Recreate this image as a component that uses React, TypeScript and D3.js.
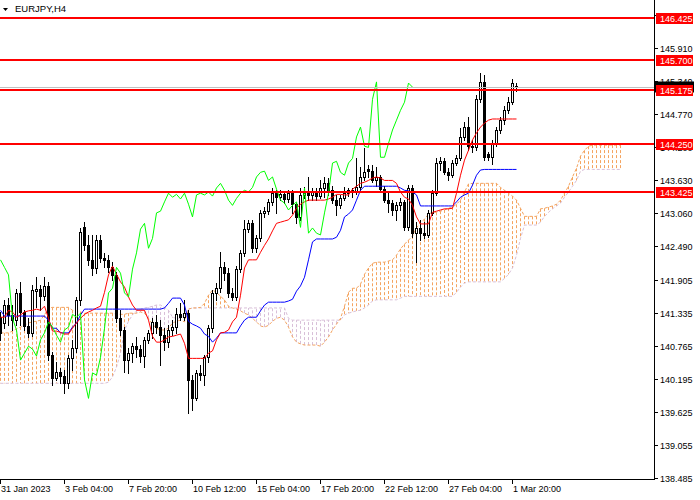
import React from "react";
import * as d3 from "d3";

// EURJPY H4 candles
const opens = [
  141.26, 141.16, 141.47, 141.30, 141.21, 141.68, 141.35, 141.11, 140.99, 141.71,
  141.74, 141.62, 141.80, 140.61, 140.21, 140.31, 140.24, 140.12, 140.55, 140.73,
  141.56, 142.81, 142.50, 142.25, 142.11, 142.59, 142.28, 142.25, 142.12, 141.99,
  141.24, 141.04, 140.52, 140.64, 140.76, 140.71, 140.59, 140.87, 140.99, 141.18,
  141.09, 140.95, 140.83, 141.04, 141.09, 141.31, 141.26, 141.33, 140.18, 139.86,
  140.30, 140.26, 140.57, 141.07, 141.68, 141.76, 142.12, 142.02, 141.68, 141.61,
  142.09, 142.37, 142.78, 142.88, 142.45, 142.62, 143.06, 143.09, 143.25, 143.40,
  143.33, 143.38, 143.30, 143.40, 143.21, 142.99, 143.37, 143.40, 143.37, 143.42,
  143.35, 143.49, 143.57, 143.45, 143.28, 143.19, 143.31, 143.40, 143.45, 143.42,
  143.50, 143.68, 143.81, 143.78, 143.62, 143.68, 143.47, 143.28, 143.23, 143.11,
  143.19, 143.25, 142.81, 143.49, 142.71, 142.80, 142.71, 142.68, 143.06, 143.40,
  143.92, 143.95, 143.76, 143.71, 143.92, 144.00, 144.37, 144.54, 144.21, 144.19,
  145.02, 145.32, 144.07, 144.02, 144.26, 144.49, 144.66, 144.83, 144.97, 145.25,
];
const highs = [
  141.35, 141.56, 141.59, 141.47, 141.74, 141.87, 141.38, 141.24, 141.81, 141.95,
  141.81, 141.95, 141.87, 140.66, 140.49, 140.38, 140.35, 140.61, 140.87, 141.61,
  142.80, 142.90, 142.68, 142.68, 142.68, 142.68, 142.37, 142.33, 142.21, 142.04,
  141.38, 141.09, 140.73, 140.81, 140.92, 140.78, 140.92, 141.04, 141.24, 141.30,
  141.21, 141.07, 141.12, 141.21, 141.42, 141.50, 141.56, 141.38, 140.26, 140.35,
  140.43, 140.61, 141.12, 141.73, 141.85, 142.38, 142.21, 142.11, 141.76, 142.14,
  142.42, 142.94, 142.94, 142.94, 142.68, 143.11, 143.16, 143.30, 143.49, 143.45,
  143.45, 143.42, 143.45, 143.45, 143.23, 143.49, 143.50, 143.68, 143.49, 143.49,
  143.62, 143.68, 143.66, 143.52, 143.37, 143.37, 143.50, 143.49, 143.49, 144.00,
  143.85, 144.18, 143.88, 143.88, 143.85, 143.71, 143.52, 143.42, 143.28, 143.25,
  143.31, 143.28, 143.54, 143.54, 142.90, 142.94, 142.90, 143.11, 143.45, 144.00,
  144.02, 144.00, 143.83, 143.97, 144.06, 144.52, 144.63, 144.71, 144.32, 145.09,
  145.47, 145.44, 144.11, 144.32, 144.54, 144.71, 144.90, 145.06, 145.37, 145.30,
];
const lows = [
  140.87, 141.07, 141.12, 141.04, 141.12, 141.12, 141.04, 140.92, 140.93, 141.43,
  141.38, 141.56, 140.52, 140.09, 140.18, 140.12, 139.95, 140.04, 140.35, 140.66,
  141.47, 142.42, 142.16, 141.99, 142.02, 142.21, 142.12, 142.04, 141.90, 141.18,
  140.95, 140.31, 140.30, 140.49, 140.57, 140.49, 140.40, 140.81, 140.90, 140.99,
  140.43, 140.69, 140.74, 140.95, 140.99, 141.21, 141.21, 139.61, 139.66, 139.83,
  140.18, 140.09, 140.49, 141.00, 141.56, 141.69, 141.90, 141.61, 141.56, 141.56,
  142.04, 142.31, 142.73, 142.38, 142.38, 142.57, 142.99, 143.04, 143.19, 143.06,
  143.28, 143.23, 143.25, 143.06, 142.88, 142.94, 143.31, 143.28, 143.28, 143.28,
  143.31, 143.33, 143.37, 143.23, 143.02, 143.14, 143.28, 143.35, 143.33, 143.38,
  143.45, 143.62, 143.68, 143.59, 143.52, 143.42, 143.25, 143.07, 143.02, 142.94,
  143.11, 142.76, 142.76, 142.64, 142.21, 142.59, 142.62, 142.64, 143.02, 143.37,
  143.80, 143.73, 143.62, 143.68, 143.88, 143.97, 144.32, 144.14, 144.11, 144.14,
  144.97, 143.97, 143.97, 143.90, 144.21, 144.44, 144.59, 144.78, 144.94, 145.16,
];
const closes = [
  140.99, 141.47, 141.30, 141.21, 141.68, 141.35, 141.11, 140.99, 141.73, 141.74,
  141.62, 141.80, 140.61, 140.21, 140.31, 140.24, 140.12, 140.55, 140.73, 141.56,
  142.73, 142.50, 142.25, 142.11, 142.59, 142.28, 142.25, 142.12, 141.99, 141.24,
  141.04, 140.52, 140.64, 140.76, 140.71, 140.59, 140.87, 140.99, 141.18, 141.09,
  140.95, 140.83, 141.04, 141.09, 141.31, 141.26, 141.33, 140.18, 139.86, 140.30,
  140.26, 140.57, 141.07, 141.68, 141.76, 142.12, 142.02, 141.68, 141.61, 142.09,
  142.37, 142.78, 142.88, 142.45, 142.62, 143.06, 143.09, 143.25, 143.40, 143.33,
  143.38, 143.30, 143.40, 143.21, 142.99, 143.37, 143.40, 143.37, 143.42, 143.35,
  143.49, 143.57, 143.45, 143.28, 143.19, 143.31, 143.40, 143.45, 143.42, 143.50,
  143.68, 143.76, 143.78, 143.62, 143.68, 143.47, 143.28, 143.23, 143.11, 143.19,
  143.25, 142.81, 143.49, 142.71, 142.80, 142.71, 142.68, 143.06, 143.40, 143.92,
  143.95, 143.76, 143.71, 143.92, 144.00, 144.37, 144.54, 144.21, 144.19, 145.02,
  145.32, 144.02, 144.02, 144.26, 144.49, 144.66, 144.83, 144.97, 145.30, 145.23,
];

// Ichimoku lines
const tenkan = [
  141.26, 141.26, 141.38, 141.35, 141.26, 141.30, 141.35, 141.37, 141.38, 141.40,
  141.38, 141.45, 141.24, 141.02, 141.02, 141.00, 140.97, 140.97, 141.07, 141.16,
  141.24, 141.31, 141.35, 141.38, 141.42, 141.45, 141.69, 141.99, 142.14, 142.00,
  141.87, 141.78, 141.61, 141.47, 141.38, 141.38, 141.38, 141.21, 140.93, 140.83,
  140.83, 140.87, 140.92, 140.93, 140.95, 140.97, 140.81, 140.55, 140.55, 140.55,
  140.55, 140.55, 140.64, 140.68, 140.87, 140.99, 141.00, 141.04, 141.18, 141.26,
  141.64, 142.11, 142.25, 142.25, 142.25, 142.38, 142.50, 142.61, 142.75, 142.88,
  142.90, 142.92, 142.94, 143.02, 143.14, 143.21, 143.25, 143.28, 143.28, 143.28,
  143.28, 143.28, 143.30, 143.33, 143.38, 143.38, 143.37, 143.37, 143.47, 143.52,
  143.57, 143.59, 143.62, 143.66, 143.68, 143.66, 143.62, 143.62, 143.62, 143.57,
  143.42, 143.33, 143.30, 143.19, 142.99, 142.87, 142.87, 142.87, 143.07, 143.09,
  143.11, 143.13, 143.13, 143.14, 143.40, 143.71, 143.97, 144.14, 144.32, 144.44,
  144.54, 144.61, 144.66, 144.68, 144.68, 144.68, 144.68, 144.68, 144.68, 144.68,
];
const kijun = [
  141.38, 141.28, 141.28, 141.28, 141.28, 141.28, 141.28, 141.28, 141.28, 141.28,
  141.28, 141.28, 141.21, 141.07, 141.07, 140.99, 140.99, 140.99, 141.09, 141.16,
  141.30, 141.40, 141.40, 141.40, 141.40, 141.40, 141.40, 141.40, 141.40, 141.40,
  141.40, 141.40, 141.40, 141.40, 141.40, 141.40, 141.40, 141.40, 141.40, 141.40,
  141.40, 141.42, 141.50, 141.59, 141.59, 141.59, 141.47, 141.19, 141.14, 141.11,
  141.07, 140.97, 140.93, 140.83, 140.90, 140.99, 140.99, 140.99, 140.99, 140.99,
  141.11, 141.21, 141.26, 141.26, 141.26, 141.37, 141.47, 141.52, 141.52, 141.52,
  141.52, 141.52, 141.54, 141.57, 141.71, 141.80, 141.95, 142.25, 142.56, 142.61,
  142.61, 142.61, 142.61, 142.61, 142.64, 142.76, 142.99, 143.04, 143.11, 143.28,
  143.45, 143.52, 143.52, 143.52, 143.52, 143.52, 143.52, 143.52, 143.52, 143.52,
  143.49, 143.45, 143.44, 143.42, 143.37, 143.18, 143.18, 143.18, 143.18, 143.18,
  143.18, 143.18, 143.18, 143.18, 143.25, 143.33, 143.37, 143.40, 143.54, 143.71,
  143.80, 143.81, 143.81, 143.81, 143.81, 143.81, 143.81, 143.81, 143.81, 143.81,
];
// the two cloud spans run 26 bars past the last candle
const senkouA = [
  140.99, 140.99, 140.99, 141.02, 141.06, 141.09, 141.12, 141.16, 141.18, 141.19,
  141.21, 141.30, 141.42, 141.43, 141.43, 141.43, 141.43, 141.43, 141.38, 141.37,
  141.35, 141.33, 141.33, 141.33, 141.33, 141.33, 141.33, 141.33, 141.33, 141.31,
  141.31, 141.31, 141.33, 141.33, 141.33, 141.35, 141.33, 141.24, 141.14, 141.07,
  141.04, 141.04, 141.07, 141.16, 141.19, 141.21, 141.18, 141.40, 141.42, 141.42,
  141.43, 141.50, 141.64, 141.73, 141.69, 141.62, 141.56, 141.45, 141.42, 141.40,
  141.37, 141.33, 141.30, 141.24, 141.18, 141.11, 141.09, 141.12, 141.19, 141.24,
  141.26, 141.21, 141.09, 140.92, 140.83, 140.80, 140.78, 140.78, 140.78, 140.78,
  140.76, 140.83, 140.92, 141.04, 141.14, 141.24, 141.45, 141.69, 141.76, 141.76,
  141.83, 142.00, 142.11, 142.19, 142.21, 142.21, 142.21, 142.23, 142.25, 142.33,
  142.44, 142.52, 142.59, 142.66, 142.80, 142.90, 142.95, 143.04, 143.07, 143.07,
  143.09, 143.11, 143.14, 143.16, 143.21, 143.28, 143.42, 143.56, 143.57, 143.57,
  143.57, 143.57, 143.57, 143.57, 143.57, 143.50, 143.45, 143.40, 143.35, 143.28,
  143.14, 143.00, 143.00, 143.00, 143.00, 143.13, 143.14, 143.16, 143.18, 143.21,
  143.28, 143.40, 143.52, 143.68, 143.83, 144.04, 144.14, 144.21, 144.23, 144.23,
  144.23, 144.23, 144.23, 144.23, 144.23, 144.23,
];
const senkouB = [
  140.12, 140.12, 140.12, 140.12, 140.12, 140.12, 140.12, 140.12, 140.12, 140.12,
  140.12, 140.12, 140.12, 140.12, 140.12, 140.12, 140.12, 140.12, 140.12, 140.12,
  140.12, 140.12, 140.12, 140.12, 140.12, 140.12, 140.12, 140.14, 140.23, 140.40,
  140.64, 141.04, 141.19, 141.30, 141.38, 141.40, 141.42, 141.43, 141.45, 141.47,
  141.47, 141.43, 141.38, 141.26, 141.24, 141.24, 141.31, 141.40, 141.42, 141.42,
  141.42, 141.42, 141.42, 141.42, 141.42, 141.42, 141.42, 141.42, 141.42, 141.42,
  141.42, 141.42, 141.42, 141.42, 141.42, 141.42, 141.42, 141.42, 141.42, 141.42,
  141.42, 141.42, 141.24, 141.21, 141.21, 141.21, 141.21, 141.21, 141.21, 141.21,
  141.21, 141.21, 141.21, 141.21, 141.21, 141.21, 141.30, 141.33, 141.35, 141.37,
  141.38, 141.42, 141.47, 141.54, 141.56, 141.56, 141.56, 141.56, 141.56, 141.56,
  141.59, 141.62, 141.62, 141.62, 141.62, 141.62, 141.62, 141.62, 141.62, 141.62,
  141.62, 141.62, 141.62, 141.62, 141.69, 141.78, 141.85, 141.87, 141.87, 141.87,
  141.87, 141.87, 141.87, 141.87, 141.87, 141.87, 141.93, 142.00, 142.11, 142.33,
  142.62, 142.85, 142.85, 142.85, 142.85, 142.90, 143.00, 143.07, 143.13, 143.18,
  143.23, 143.33, 143.42, 143.52, 143.62, 143.78, 143.81, 143.81, 143.81, 143.81,
  143.81, 143.81, 143.81, 143.81, 143.81, 143.81,
];

const levels = [146.425, 145.7, 145.175, 144.25, 143.425];
const yTickLabels = [
  "146.480", "145.910", "145.340", "144.770", "144.200", "143.630", "143.060",
  "142.490", "141.905", "141.335", "140.765", "140.195", "139.625", "139.055", "138.485",
];
const xTickLabels = [
  "31 Jan 2023", "3 Feb 04:00", "7 Feb 20:00", "10 Feb 12:00", "15 Feb 04:00",
  "17 Feb 20:00", "22 Feb 12:00", "27 Feb 04:00", "1 Mar 20:00",
];
const barsPerTick = 16;
const chikouShift = 26;

const plotRight = 654;
const plotBottom = 479;
const font = "'Liberation Sans', Arial, sans-serif";

const xScale = d3.scaleLinear().domain([0, 155]).range([0.5, 0.5 + 4 * 155]);
const yScale = d3.scaleLinear().domain([138.469, 146.733]).range([plotBottom, 0]);

const lineGen = d3
  .line<number>()
  .x((_, i) => xScale(i))
  .y((d) => yScale(d));

const px = (v: number) => Math.round(yScale(v));

const App = () => {
  const last = closes[closes.length - 1];
  const chikou = closes.slice(chikouShift);

  return (
    <svg
      width={700}
      height={500}
      style={{ position: "absolute", left: 0, top: 0, background: "#fff" }}
      fontFamily={font}
    >
      <rect x={0} y={0} width={700} height={500} fill="#fff" />

      {/* kumo hatching */}
      <g strokeDasharray="3,2">
        {senkouA.map((a, i) => (
          <line
            key={i}
            x1={xScale(i)}
            x2={xScale(i)}
            y1={yScale(a)}
            y2={yScale(senkouB[i])}
            stroke={a >= senkouB[i] ? "#F4A460" : "#D8BFD8"}
          />
        ))}
      </g>
      <path d={lineGen(senkouB) ?? ""} fill="none" stroke="#D8BFD8" strokeDasharray="3,2" />
      <path d={lineGen(senkouA) ?? ""} fill="none" stroke="#F4A460" strokeDasharray="3,2" />

      {/* candles */}
      <g shapeRendering="crispEdges">
        {opens.map((o, i) => {
          const c = closes[i];
          const x = xScale(i);
          const yO = px(o);
          const yC = px(c);
          const top = Math.min(yO, yC);
          const bot = Math.max(yO, yC);
          return (
            <g key={i}>
              <line x1={x} x2={x} y1={px(highs[i])} y2={px(lows[i]) + 1} stroke="#000" />
              {bot - top < 1 ? (
                <line x1={x - 1.5} x2={x + 1.5} y1={top + 0.5} y2={top + 0.5} stroke="#000" />
              ) : (
                <rect
                  x={x - 1}
                  y={top + 0.5}
                  width={2}
                  height={bot - top}
                  fill={c >= o ? "#fff" : "#000"}
                  stroke="#000"
                />
              )}
            </g>
          );
        })}
      </g>

      {/* ichimoku lines */}
      <path d={lineGen(kijun) ?? ""} fill="none" stroke="#0000FF" strokeWidth={1} />
      <path d={lineGen(tenkan) ?? ""} fill="none" stroke="#FF0000" strokeWidth={1} />
      <path d={lineGen(chikou) ?? ""} fill="none" stroke="#00FF00" strokeWidth={1} />

      {/* bid line */}
      <line
        x1={0}
        x2={plotRight}
        y1={px(last) + 0.5}
        y2={px(last) + 0.5}
        stroke="#C0C0C0"
        shapeRendering="crispEdges"
      />

      {/* horizontal levels */}
      {levels.map((v) => (
        <line
          key={v}
          x1={0}
          x2={plotRight}
          y1={px(v)}
          y2={px(v)}
          stroke="#FF0000"
          strokeWidth={2}
          shapeRendering="crispEdges"
        />
      ))}

      {/* axes */}
      <g shapeRendering="crispEdges" stroke="#000">
        <line x1={plotRight + 0.5} x2={plotRight + 0.5} y1={0} y2={plotBottom + 1} />
        <line x1={0} x2={plotRight + 1} y1={plotBottom + 0.5} y2={plotBottom + 0.5} />
        {yTickLabels.map((t) => (
          <line
            key={t}
            x1={plotRight}
            x2={plotRight + 4}
            y1={px(+t) + 0.5}
            y2={px(+t) + 0.5}
          />
        ))}
        {xTickLabels.map((t, i) => (
          <line
            key={t}
            x1={xScale(i * barsPerTick)}
            x2={xScale(i * barsPerTick)}
            y1={plotBottom}
            y2={plotBottom + 5}
          />
        ))}
      </g>

      <g fontSize={9} fill="#000">
        {yTickLabels.map((t) => (
          <text key={t} x={plotRight + 6} y={px(+t) + 3.5}>
            {t}
          </text>
        ))}
        {xTickLabels.map((t, i) => (
          <text key={t} x={xScale(i * barsPerTick) + 0.5} y={492}>
            {t}
          </text>
        ))}
      </g>

      {/* bid price box, mostly hidden under the level label */}
      <rect x={plotRight + 1} y={px(last) - 5.5} width={39} height={11} fill="#000" />

      {/* level labels */}
      {levels.map((v) => (
        <g key={v}>
          <rect x={plotRight + 2} y={px(v) - 5} width={37} height={11} fill="#FF0000" />
          <text x={plotRight + 6} y={px(v) + 3.5} fontSize={9} fill="#fff">
            {v.toFixed(3)}
          </text>
        </g>
      ))}

      {/* title */}
      <path d="M3,8 L8,8 L5.5,11 Z" fill="#000" />
      <text x={15} y={11.5} fontSize={9.5} fill="#000">
        EURJPY,H4
      </text>
    </svg>
  );
};

export default App;
